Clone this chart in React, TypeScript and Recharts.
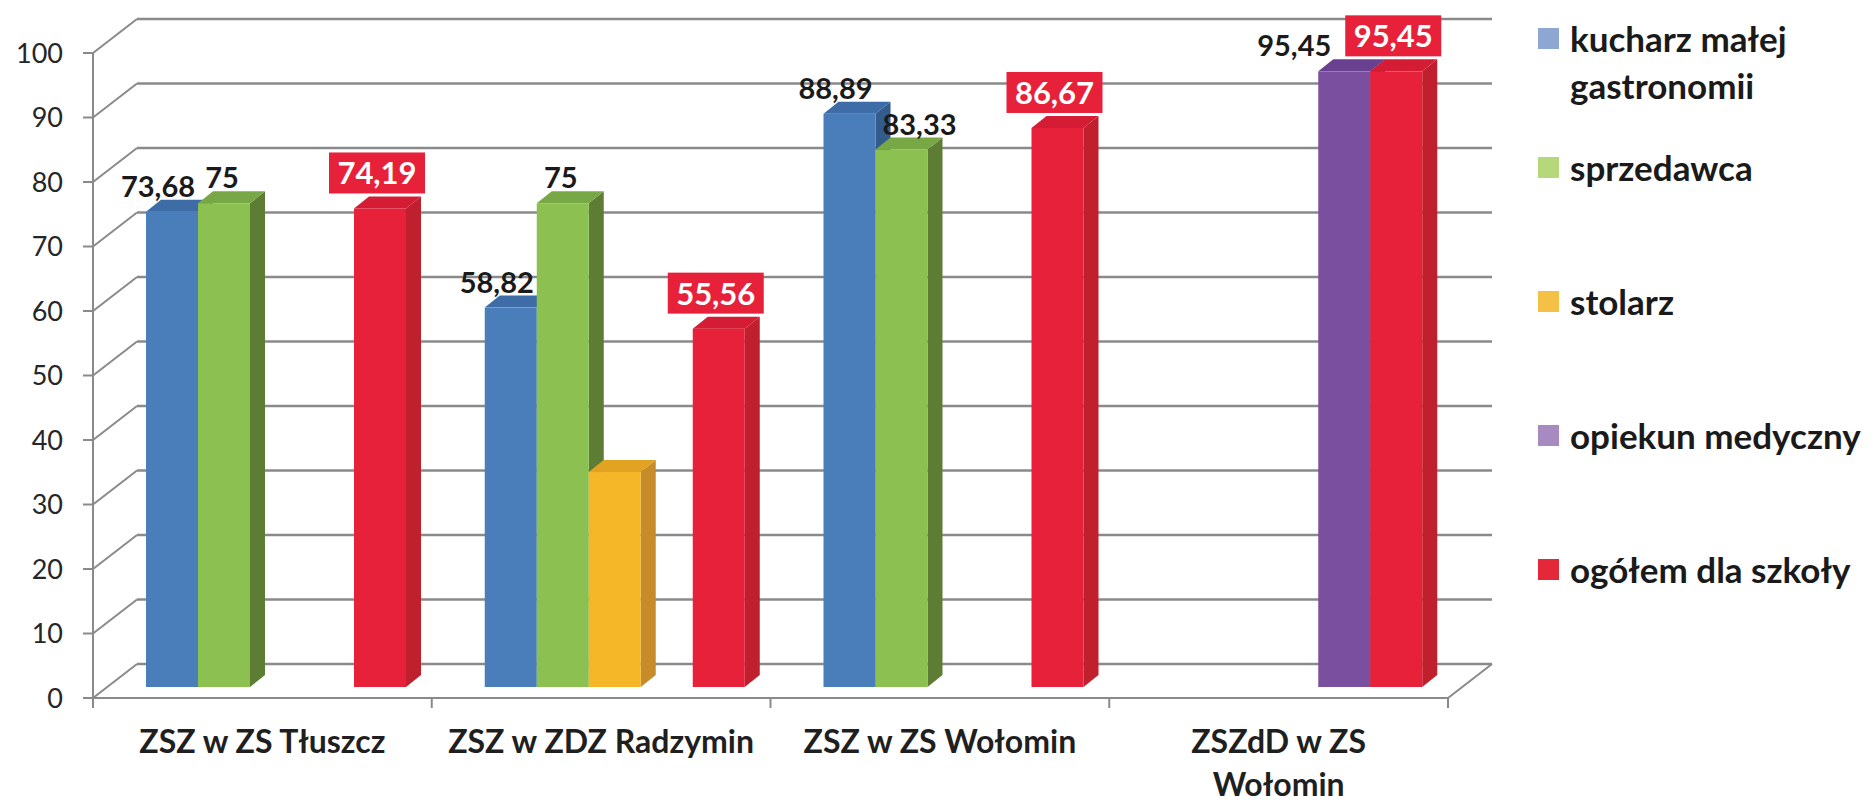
import { BarChart, Bar, XAxis, YAxis, CartesianGrid, Legend, LabelList } from 'recharts';

const categories = ['ZSZ w ZS Tłuszcz', 'ZSZ w ZDZ Radzymin', 'ZSZ w ZS Wołomin', 'ZSZdD w ZS\nWołomin'];
const kucharz = [73.68, 58.82, 88.89, null];
const sprzedawca = [75, 75, 83.33, null];
const stolarz = [null, 33.33, null, null];
const opiekun = [null, null, null, 95.45];
const ogolem = [74.19, 55.56, 86.67, 95.45];
const yTicks = [0, 10, 20, 30, 40, 50, 60, 70, 80, 90, 100];

const data = categories.map((name, i) => ({
    name,
    kucharz: kucharz[i],
    sprzedawca: sprzedawca[i],
    stolarz: stolarz[i],
    opiekun: opiekun[i],
    ogolem: ogolem[i],
}));

const series = [
    { key: 'kucharz', name: 'kucharz małej gastronomii', values: kucharz, front: '#4a7ebb', top: '#3d6ca6', side: '#335b8c', legend: '#8ea6d2', label: 'dark', dx: -14 },
    { key: 'sprzedawca', name: 'sprzedawca', values: sprzedawca, front: '#8cc152', top: '#78a845', side: '#5e7d34', legend: '#b6d77a', label: 'dark', dx: -2 },
    { key: 'stolarz', name: 'stolarz', values: stolarz, front: '#f5b628', top: '#e2a222', side: '#c78b2a', legend: '#f4c045', label: 'none', dx: 0 },
    { key: 'opiekun', name: 'opiekun medyczny', values: opiekun, front: '#7b4fa0', top: '#6a4090', side: '#5b3a7e', legend: '#a68ac0', label: 'dark', dx: -50 },
    { key: 'ogolem', name: 'ogółem dla szkoły', values: ogolem, front: '#e8213a', top: '#d41d34', side: '#c01f2e', legend: '#e4283a', label: 'box', dx: -3 },
];

// geometry of the fake 3D frame
const W = 1874;
const H = 803;
const LEFT = 93;
const RIGHT_EDGE = 1448;
const TOP = 53;
const BOTTOM = 698;
const WALL_X = 44;
const WALL_Y = 34;
const BAR_OFF_X = 14;
const BAR_OFF_Y = 11;
const SIDE_X = 15;
const SIDE_Y = 12;
const BAND = (RIGHT_EDGE - LEFT) / categories.length;
const AXIS = '#8a8a8a';
const FONT = 'Lato, "Open Sans", sans-serif';

function Bar3D(props: any) {
    const { x, y, width, height, s } = props;
    if (height == null || !width || height <= 0) return null;
    const fx = x + BAR_OFF_X;
    const fy = y - BAR_OFF_Y;
    const fb = fy + height;
    return (
        <g>
            <polygon
                points={`${fx + width},${fy} ${fx + width + SIDE_X},${fy - SIDE_Y} ${fx + width + SIDE_X},${fb - SIDE_Y} ${fx + width},${fb}`}
                fill={s.side}
            />
            <polygon
                points={`${fx},${fy} ${fx + SIDE_X},${fy - SIDE_Y} ${fx + width + SIDE_X},${fy - SIDE_Y} ${fx + width},${fy}`}
                fill={s.top}
            />
            <rect x={fx} y={fy} width={width} height={height} fill={s.front} />
        </g>
    );
}

function makeLabel(s: any, si: number) {
    return (props: any) => {
        const { x, y, width, value, index } = props;
        if (value == null || s.label === 'none') return null;
        const txt = String(value).replace('.', ',');
        // push the label right when the bar to its left is taller (as Excel does)
        const prev = si > 0 ? series[si - 1].values[index] : null;
        const dx = prev != null && prev > value && s.label === 'dark' ? 18 : s.dx;
        const cx = x + BAR_OFF_X + width / 2 + dx;
        const ty = y - BAR_OFF_Y - SIDE_Y;
        if (s.label === 'box') {
            return (
                <g>
                    <rect x={cx - 48} y={ty - 44} width={96} height={41} fill="#e8213a" />
                    <text x={cx} y={ty - 12} textAnchor="middle" fill="#ffffff" fontFamily={FONT} fontWeight={700} fontSize={31}>
                        {txt}
                    </text>
                </g>
            );
        }
        return (
            <text x={cx} y={ty - 3} textAnchor="middle" fill="#1a1a1a" fontFamily={FONT} fontWeight={700} fontSize={29}>
                {txt}
            </text>
        );
    };
}

const gridLine = (p: any) => {
    const { x1, y1, x2, index } = p;
    const atFloor = Math.abs(y1 - BOTTOM) < 1;
    return (
        <g key={`grid-${index}`}>
            <line x1={x1} y1={y1} x2={x1 + WALL_X} y2={y1 - WALL_Y} stroke={AXIS} strokeWidth={2} />
            <line x1={x1 + WALL_X} y1={y1 - WALL_Y} x2={x2 + WALL_X} y2={y1 - WALL_Y} stroke={AXIS} strokeWidth={2.5} />
            {atFloor && <line x1={x2} y1={y1} x2={x2 + WALL_X} y2={y1 - WALL_Y} stroke={AXIS} strokeWidth={2} />}
        </g>
    );
};

const CategoryTick = (p: any) => {
    const { x, payload, index } = p;
    const lines = String(payload.value).split('\n');
    return (
        <g>
            <line x1={x - BAND / 2} y1={BOTTOM} x2={x - BAND / 2} y2={BOTTOM + 10} stroke={AXIS} strokeWidth={2} />
            {index === categories.length - 1 && (
                <line x1={x + BAND / 2} y1={BOTTOM} x2={x + BAND / 2} y2={BOTTOM + 10} stroke={AXIS} strokeWidth={2} />
            )}
            {lines.map((l, i) => (
                <text key={i} x={x} y={BOTTOM + 55 + i * 43} textAnchor="middle" fill="#1f1f1f" fontFamily={FONT} fontWeight={700} fontSize={32}>
                    {l}
                </text>
            ))}
        </g>
    );
};

const renderLegend = () => (
    <div style={{ position: 'relative', fontFamily: FONT, fontWeight: 700, fontSize: 35, color: '#1a1a1a' }}>
        {series.map((s, i) => (
            <div key={s.key} style={{ position: 'absolute', left: 0, top: i === 0 ? 0 : 129 + (i - 1) * 134, display: 'flex', alignItems: 'flex-start' }}>
                <span style={{ display: 'inline-block', width: 21, height: 21, background: s.legend, marginTop: 13, marginRight: 11, flex: 'none' }} />
                <span style={{ width: 300, lineHeight: '47px' }}>{s.name}</span>
            </div>
        ))}
    </div>
);

export default function App() {
    return (
        <div style={{ width: W, height: H, background: '#ffffff' }}>
            <style>{`body { margin: 0; }`}</style>
            <BarChart
                width={W}
                height={H}
                data={data}
                barSize={52}
                barGap={0}
                margin={{ top: TOP, right: W - RIGHT_EDGE, bottom: 5, left: 13 }}
            >
                <CartesianGrid horizontal={gridLine} vertical={false} />
                <XAxis
                    dataKey="name"
                    height={100}
                    tickLine={false}
                    axisLine={{ stroke: AXIS, strokeWidth: 2 }}
                    tick={<CategoryTick />}
                    interval={0}
                />
                <YAxis
                    width={80}
                    domain={[0, 100]}
                    ticks={yTicks}
                    interval={0}
                    tickSize={10}
                    tickMargin={20}
                    tickLine={{ stroke: AXIS, strokeWidth: 2 }}
                    axisLine={{ stroke: AXIS, strokeWidth: 2 }}
                    tick={{ fill: '#262626', fontSize: 27, fontFamily: FONT }}
                />
                <Legend
                    layout="vertical"
                    align="center"
                    verticalAlign="middle"
                    content={renderLegend}
                    wrapperStyle={{ position: 'absolute', left: 1538, top: 15, width: 336, height: 600 }}
                />
                {series.map((s, si) => (
                    <Bar
                        key={s.key}
                        dataKey={s.key}
                        name={s.name}
                        fill={s.legend}
                        isAnimationActive={false}
                        shape={(p: any) => <Bar3D {...p} s={s} />}
                    >
                        <LabelList dataKey={s.key} content={makeLabel(s, si)} />
                    </Bar>
                ))}
            </BarChart>
        </div>
    );
}
